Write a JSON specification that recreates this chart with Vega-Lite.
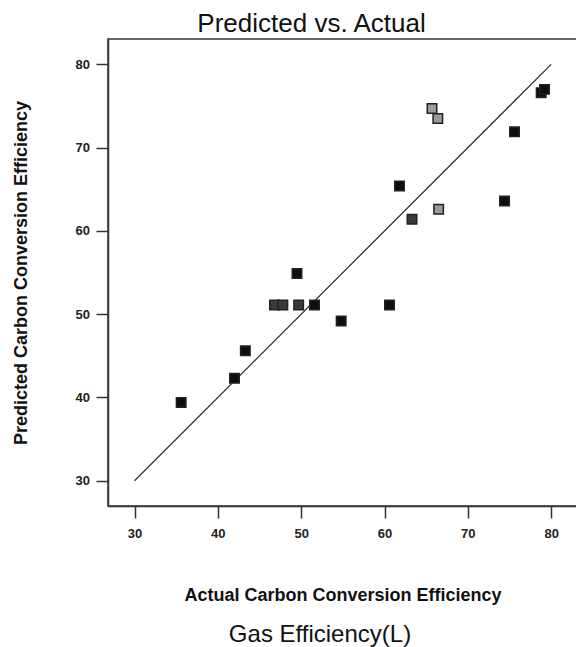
{
  "$schema": "https://vega.github.io/schema/vega-lite/v6.json",
  "autosize": {"type": "none"},
  "padding": {"left": 108, "top": 39, "right": 0, "bottom": 141},
  "width": 469,
  "height": 467,
  "background": "white",
  "title": {
    "text": "Predicted vs. Actual",
    "font": "Liberation Sans",
    "fontSize": 26,
    "fontWeight": "normal",
    "color": "#111111",
    "anchor": "middle",
    "dx": -31,
    "offset": 2
  },
  "config": {
    "view": {"stroke": "#333333", "strokeWidth": 1.5},
    "axis": {
      "grid": false,
      "domainColor": "#333333",
      "domainWidth": 1.5,
      "tickColor": "#333333",
      "tickWidth": 1.5,
      "tickSize": 12,
      "labelFont": "Liberation Sans",
      "labelFontWeight": "bold",
      "labelFontSize": 13,
      "labelColor": "#222222",
      "titleFont": "Liberation Sans",
      "titleColor": "#111111"
    }
  },
  "datasets": {
    "diag": [
      {"actual": 30, "predicted": 30},
      {"actual": 80, "predicted": 80}
    ],
    "runs": [
      {"actual": 35.6, "predicted": 39.4, "shade": "black"},
      {"actual": 42.0, "predicted": 42.3, "shade": "black"},
      {"actual": 43.3, "predicted": 45.6, "shade": "black"},
      {"actual": 46.8, "predicted": 51.1, "shade": "dark"},
      {"actual": 47.8, "predicted": 51.1, "shade": "dark"},
      {"actual": 49.5, "predicted": 54.9, "shade": "black"},
      {"actual": 49.7, "predicted": 51.1, "shade": "dark"},
      {"actual": 51.6, "predicted": 51.1, "shade": "black"},
      {"actual": 54.8, "predicted": 49.2, "shade": "black"},
      {"actual": 60.6, "predicted": 51.1, "shade": "black"},
      {"actual": 61.8, "predicted": 65.4, "shade": "black"},
      {"actual": 63.3, "predicted": 61.4, "shade": "dark"},
      {"actual": 65.7, "predicted": 74.7, "shade": "gray"},
      {"actual": 66.4, "predicted": 73.5, "shade": "gray"},
      {"actual": 66.5, "predicted": 62.6, "shade": "gray"},
      {"actual": 74.4, "predicted": 63.6, "shade": "black"},
      {"actual": 75.6, "predicted": 71.9, "shade": "black"},
      {"actual": 78.8, "predicted": 76.6, "shade": "black"},
      {"actual": 79.2, "predicted": 77.0, "shade": "black"}
    ]
  },
  "layer": [
    {
      "data": {"name": "diag"},
      "mark": {"type": "line", "color": "#333333", "strokeWidth": 1.3},
      "encoding": {
        "x": {
          "field": "actual",
          "type": "quantitative",
          "scale": {"domain": [26.82, 83.1], "nice": false, "zero": false},
          "axis": {
            "orient": "bottom",
            "domain": false,
            "ticks": false,
            "labels": false,
            "title": "Gas Efficiency(L)",
            "titleFontSize": 24,
            "titleFontWeight": "normal",
            "titlePadding": 116,
            "titleX": 211.5,
            "titleAlign": "center"
          }
        },
        "y": {
          "field": "predicted",
          "type": "quantitative",
          "scale": {"domain": [26.97, 83.05], "nice": false, "zero": false},
          "axis": {
            "values": [30, 40, 50, 60, 70, 80],
            "labelPadding": 6.5,
            "title": "Predicted Carbon Conversion Efficiency",
            "titleFontSize": 18,
            "titleFontWeight": "bold",
            "titlePadding": 45
          }
        }
      }
    },
    {
      "data": {"name": "runs"},
      "mark": {
        "type": "point",
        "shape": "square",
        "filled": true,
        "size": 90,
        "stroke": "#222222",
        "strokeWidth": 1.5,
        "opacity": 1
      },
      "encoding": {
        "x": {
          "field": "actual",
          "type": "quantitative",
          "scale": {"domain": [26.82, 83.1], "nice": false, "zero": false},
          "axis": {
            "orient": "bottom",
            "values": [30, 40, 50, 60, 70, 80],
            "labelPadding": 9,
            "title": "Actual Carbon Conversion Efficiency",
            "titleFontSize": 18,
            "titleFontWeight": "bold",
            "titlePadding": 46.5
          }
        },
        "y": {
          "field": "predicted",
          "type": "quantitative",
          "scale": {"domain": [26.97, 83.05], "nice": false, "zero": false},
          "axis": {
            "values": [30, 40, 50, 60, 70, 80],
            "labelPadding": 6.5,
            "title": "Predicted Carbon Conversion Efficiency",
            "titleFontSize": 18,
            "titleFontWeight": "bold",
            "titlePadding": 45
          }
        },
        "color": {
          "field": "shade",
          "type": "nominal",
          "scale": {"domain": ["black", "dark", "gray"], "range": ["#0d0d0d", "#3a3a3a", "#9a9a9a"]},
          "legend": null
        }
      }
    }
  ],
  "resolve": {"scale": {"x": "independent"}}
}
